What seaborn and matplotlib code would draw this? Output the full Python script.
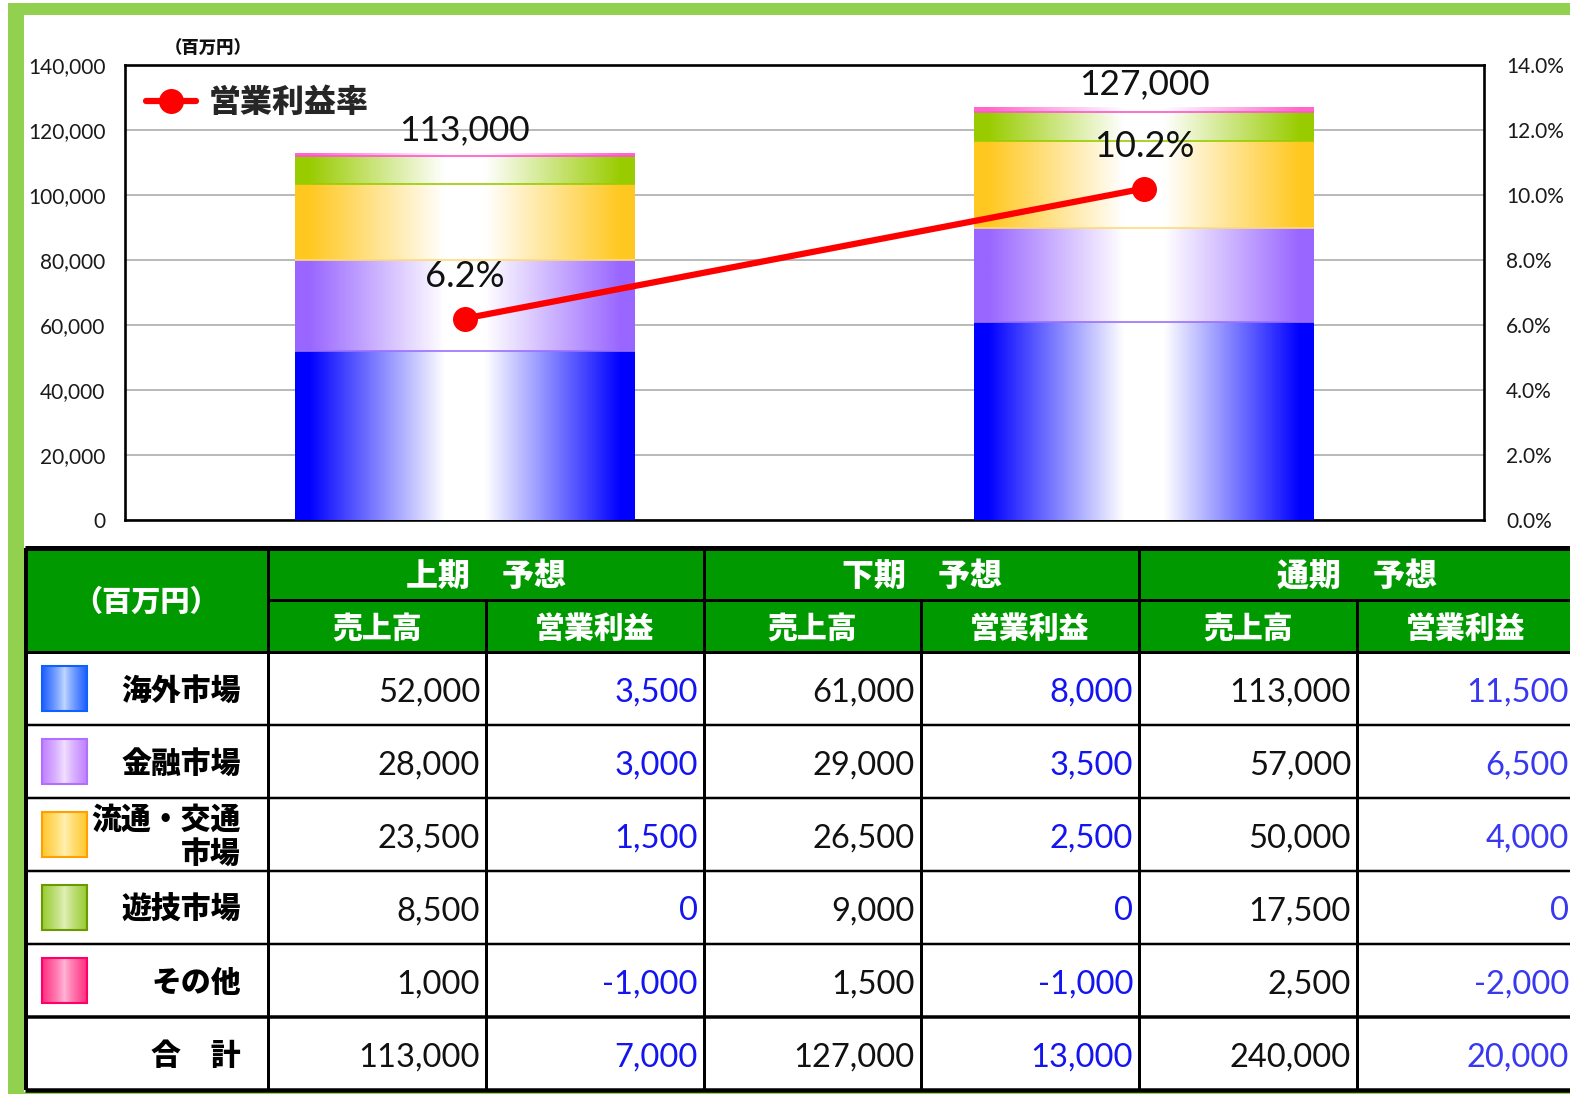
import numpy as np
import matplotlib
matplotlib.use('Agg')
import matplotlib.pyplot as plt
import matplotlib.colors as mcolors
from matplotlib.patches import Rectangle
from matplotlib.font_manager import FontProperties
import seaborn as sns

sns.set_style('white')
plt.rcParams['font.family'] = ['Noto Sans CJK JP', 'DejaVu Sans']

W, H = 1570, 1094

# ---- data ----
periods = ['上期', '下期']
segments = ['海外市場', '金融市場', '流通・交通\n市場', '遊技市場', 'その他']
sales_h1 = [52000, 28000, 23500, 8500, 1000]
sales_h2 = [61000, 29000, 26500, 9000, 1500]
profit_h1 = [3500, 3000, 1500, 0, -1000]
profit_h2 = [8000, 3500, 2500, 0, -1000]
sales_fy = [113000, 57000, 50000, 17500, 2500]
profit_fy = [11500, 6500, 4000, 0, -2000]
totals = [113000, 7000, 127000, 13000, 240000, 20000]
margin = [6.2, 10.2]
y_ticks = [0, 20000, 40000, 60000, 80000, 100000, 120000, 140000]
rate_ticks = [0, 2, 4, 6, 8, 10, 12, 14]

period_heads = ['上期　予想', '下期　予想', '通期　予想']
sub_heads = ['売上高', '営業利益']
unit_label = '（百万円）'
total_label = '合　計'
line_label = '営業利益率'

bar_colors = ['#0000FF', '#9966FF', '#FFC820', '#99CC00', '#FF66CC']
edge_lines = ['#0000FF', '#9A70FF', '#FFD97A', '#99CC00', '#FF55CC']
swatch = [('#1F5FFF', '#C4DAFF', '#1060FF'),
          ('#C080FF', '#F2E2FF', '#B070FF'),
          ('#FFC830', '#FFF2B4', '#FFA000'),
          ('#99CC33', '#E2F0BC', '#6A9A00'),
          ('#FF3080', '#FFB8D8', '#FF0066')]


def grad(edge, center='white', n=256, flat=0.12, full=0.92, p=1.0):
    e = np.array(mcolors.to_rgb(edge))
    c = np.array(mcolors.to_rgb(center))
    d = np.abs(np.linspace(-1, 1, n))
    w = np.clip((d - flat) / (full - flat), 0, 1) ** p
    rgb = c[None, :] + w[:, None] * (e - c)[None, :]
    return rgb[None, :, :]


fig = plt.figure(figsize=(W / 100, H / 100), dpi=100)
fig.patch.set_facecolor('white')

# layout axes in pixel units (frame + table)
axL = fig.add_axes([0, 0, 1, 1])
axL.set_zorder(0)
axL.axis('off')

# ---- chart ----
ax = fig.add_axes([125 / W, 1 - 520 / H, (1484 - 125) / W, (520 - 65) / H])
ax.set_zorder(1)
ax.set_facecolor('white')

cum = np.cumsum(np.array([sales_h1, sales_h2]).T, axis=0)
for i in reversed(range(len(segments))):
    n0 = len(ax.patches)
    z = 2 + (len(segments) - 1 - i)
    sns.barplot(x=periods, y=cum[i], color=bar_colors[i], width=0.5,
                saturation=1, linewidth=0, ax=ax, zorder=z)
    for j, p in enumerate(ax.patches[n0:]):
        x0, w, h = p.get_x(), p.get_width(), p.get_height()
        im = ax.imshow(grad(bar_colors[i]), extent=[x0, x0 + w, 0, h],
                       aspect='auto', zorder=z + 0.1, interpolation='bilinear')
        im.set_clip_path(p)
        if i > 0:
            ax.plot([x0, x0 + w], [cum[i - 1][j]] * 2, color=edge_lines[i],
                    lw=1.2, zorder=20, solid_capstyle='butt')

ax.bar_label(ax.containers[0], labels=[f'{v:,}' for v in cum[-1]], padding=5,
             fontsize=25.5, fontfamily='Lato', color='#111111', zorder=30)

ax.set_xlim(-0.5, 1.5)
ax.set_ylim(0, 140000)
ax.set_yticks(y_ticks)
ax.set_yticklabels([f'{t:,}' for t in y_ticks], fontfamily='Lato', fontsize=15,
                   color='#1a1a1a')
ax.tick_params(axis='y', length=0, pad=14)
ax.tick_params(axis='x', length=0, labelbottom=False)
ax.set_xlabel('')
ax.set_ylabel('')
ax.yaxis.grid(True, color='#A6A6A6', lw=1.1)
ax.xaxis.grid(False)
ax.set_axisbelow(True)
for s in ax.spines.values():
    s.set_color('black')
    s.set_linewidth(1.9)

ax2 = ax.twinx()
ax2.set_zorder(2)
x_pos = np.arange(len(periods))
sns.lineplot(x=x_pos, y=margin, ax=ax2, color='#FF0000', linewidth=4.5,
             marker='o', markersize=18, markeredgewidth=0, label=line_label)
for xi, r in zip(x_pos, margin):
    ax2.annotate(f'{r}%', (xi, r), xytext=(0, 30), textcoords='offset points',
                 ha='center', va='center', fontsize=26, fontfamily='Lato',
                 color='#111111')
ax2.set_ylim(0, 14)
ax2.set_yticks(rate_ticks)
ax2.set_yticklabels([f'{t:.1f}%' for t in rate_ticks], fontfamily='Lato',
                    fontsize=15, color='#1a1a1a')
ax2.tick_params(axis='y', length=0, pad=16)
ax2.set_ylabel('')
ax2.grid(False)
for s in ax2.spines.values():
    s.set_visible(False)
ax2.legend(loc='upper left', bbox_to_anchor=(0.0155, 0.955), borderaxespad=0,
           borderpad=0, frameon=False, handlelength=1.55, handletextpad=0.4,
           prop=FontProperties(family=['Noto Sans CJK JP'], weight='heavy', size=23))
ax.set_xlim(-0.5, 1.5)

fig.text(165 / W, 1 - 49 / H, unit_label, fontsize=12.5, fontweight='heavy',
         ha='left', va='center', color='#111111')

# ---- green frame ----
frame_green = '#92D050'
axL.add_patch(Rectangle((8, 3), W - 8, 12, color=frame_green, lw=0))
axL.add_patch(Rectangle((8, 3), 16, H - 3, color=frame_green, lw=0))
axL.add_patch(Rectangle((24, 1092), W - 24, 2, color=frame_green, lw=0))

# ---- table ----
xs = [25, 268, 486, 704, 921, 1139, 1357, 1575]
ys = [548, 600, 652, 725, 798, 871, 944, 1017, 1090]
head_green = '#009900'
bold_jp = dict(fontfamily=['Noto Sans CJK JP'], fontweight='heavy')

axL.add_patch(Rectangle((xs[0], ys[0]), xs[-1] - xs[0], ys[2] - ys[0],
                        color=head_green, lw=0))

axL.text((xs[0] + xs[1]) / 2, (ys[0] + ys[2]) / 2 + 2, unit_label, color='white',
         fontsize=21, ha='center', va='center', **bold_jp)
for k, lab in enumerate(period_heads):
    axL.text((xs[1 + 2 * k] + xs[3 + 2 * k]) / 2, (ys[0] + ys[1]) / 2 + 2, lab,
             color='white', fontsize=23, ha='center', va='center', **bold_jp)
    for m, sub in enumerate(sub_heads):
        c = 1 + 2 * k + m
        axL.text((xs[c] + xs[c + 1]) / 2, (ys[1] + ys[2]) / 2 + 2, sub,
                 color='white', fontsize=21.5, ha='center', va='center', **bold_jp)

columns = [sales_h1, profit_h1, sales_h2, profit_h2, sales_fy, profit_fy]
val_colors = ['#111111', '#1414F0', '#111111', '#1414F0', '#111111', '#3838F0']
for r, seg in enumerate(segments):
    yc = (ys[r + 2] + ys[r + 3]) / 2
    axL.text(241, yc + 2, seg, color='black', fontsize=21.5, ha='right',
             va='center', linespacing=1.12, multialignment='right', **bold_jp)
    e, cc, b = swatch[r]
    sx, sw = 42, 45
    axL.imshow(grad(e, cc, flat=0.0, full=1.0, p=0.8),
               extent=[sx, sx + sw, yc + sw / 2, yc - sw / 2], aspect='auto',
               zorder=3, interpolation='bilinear')
    axL.add_patch(Rectangle((sx, yc - sw / 2), sw, sw, fill=False, ec=b,
                            lw=1.5, zorder=4))
    for c, col in enumerate(columns):
        axL.text(xs[c + 2] - 6, yc + 4, f'{col[r]:,}', color=val_colors[c],
                 fontsize=23.5, fontfamily='Lato', ha='right', va='center')

yc = (ys[7] + ys[8]) / 2
axL.text(241, yc + 2, total_label, color='black', fontsize=21.5, ha='right',
         va='center', **bold_jp)
for c, v in enumerate(totals):
    axL.text(xs[c + 2] - 6, yc + 4, f'{v:,}', color=val_colors[c],
             fontsize=23.5, fontfamily='Lato', ha='right', va='center')

px = 0.72
axL.hlines(ys[0], xs[0], W, color='black', lw=5 * px)
axL.hlines(ys[1], xs[1], W, color='black', lw=3 * px)
axL.hlines(ys[2], xs[0], W, color='black', lw=3 * px)
axL.hlines(ys[3:7], xs[0], W, color='black', lw=2.5 * px)
axL.hlines(ys[7], xs[0], W, color='black', lw=3.5 * px)
axL.hlines(ys[8], xs[0], W, color='black', lw=4.5 * px)
axL.vlines(xs[0] + 1, ys[0], ys[8], color='black', lw=4 * px)
axL.vlines([xs[1], xs[3], xs[5]], ys[0], ys[8], color='black', lw=3 * px)
axL.vlines([xs[2], xs[4], xs[6]], ys[1], ys[8], color='black', lw=3 * px)

axL.set_xlim(0, W)
axL.set_ylim(H, 0)

fig.savefig('out.png', dpi=100, facecolor='white')
